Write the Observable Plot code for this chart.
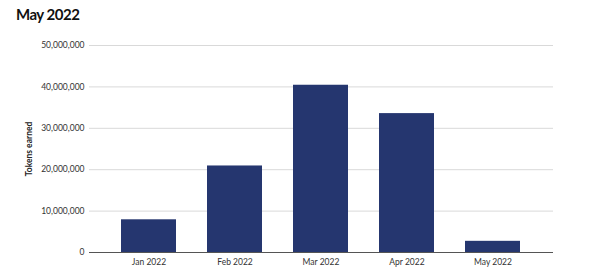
<!DOCTYPE html>
<html>
<head>
<meta charset="utf-8">
<script src="https://cdn.jsdelivr.net/npm/d3@7"></script>
<script src="https://cdn.jsdelivr.net/npm/@observablehq/plot@0.6"></script>
<style>
  html, body { margin: 0; padding: 0; background: #fff; }
  body { width: 600px; height: 276px; overflow: hidden; font-family: Lato, "Noto Sans", sans-serif; }
  #title { height: 30px; box-sizing: border-box; padding: 5px 0 0 16px; font-size: 15px; font-weight: 700; color: #111; letter-spacing: -0.5px; line-height: 18px; }
  #chart svg [aria-label="y-axis label"] text { font-weight: 700; fill: #222; }
</style>
</head>
<body>
<div id="title">May 2022</div>
<div id="chart"></div>
<script>
// Monthly tokens earned, January–May 2022
const months = ["Jan 2022", "Feb 2022", "Mar 2022", "Apr 2022", "May 2022"];
const tokens = [7900000, 20900000, 40400000, 33550000, 2700000];
const yTicks = [0, 10000000, 20000000, 30000000, 40000000, 50000000];

const rows = months.map((m, i) => ({month: m, tokens: tokens[i]}));
const fmt = d3.format(",");

const chart = Plot.plot({
  width: 600,
  height: 246,
  marginTop: 15,
  marginBottom: 24,
  marginLeft: 89,
  marginRight: 47,
  style: {fontFamily: "Lato, 'Noto Sans', sans-serif", fontSize: "8.5px", color: "#333", background: "#fff"},
  x: {domain: months, paddingInner: 0.356, paddingOuter: 0.345},
  y: {domain: [0, 50000000]},
  marks: [
    Plot.gridY(yTicks, {stroke: "#d9d9d9", strokeOpacity: 1, strokeWidth: 1}),
    Plot.barY(rows, {x: "month", y: "tokens", fill: "#25366f"}),
    Plot.ruleY([0], {stroke: "#555", strokeWidth: 1}),
    Plot.axisY(yTicks, {
      tickSize: 0, tickPadding: 5, tickFormat: fmt,
      label: "Tokens earned", labelAnchor: "center", labelArrow: "none", labelOffset: 64
    }),
    Plot.axisX({tickSize: 0, tickPadding: 6, label: null})
  ]
});
document.getElementById("chart").appendChild(chart);
</script>
</body>
</html>
